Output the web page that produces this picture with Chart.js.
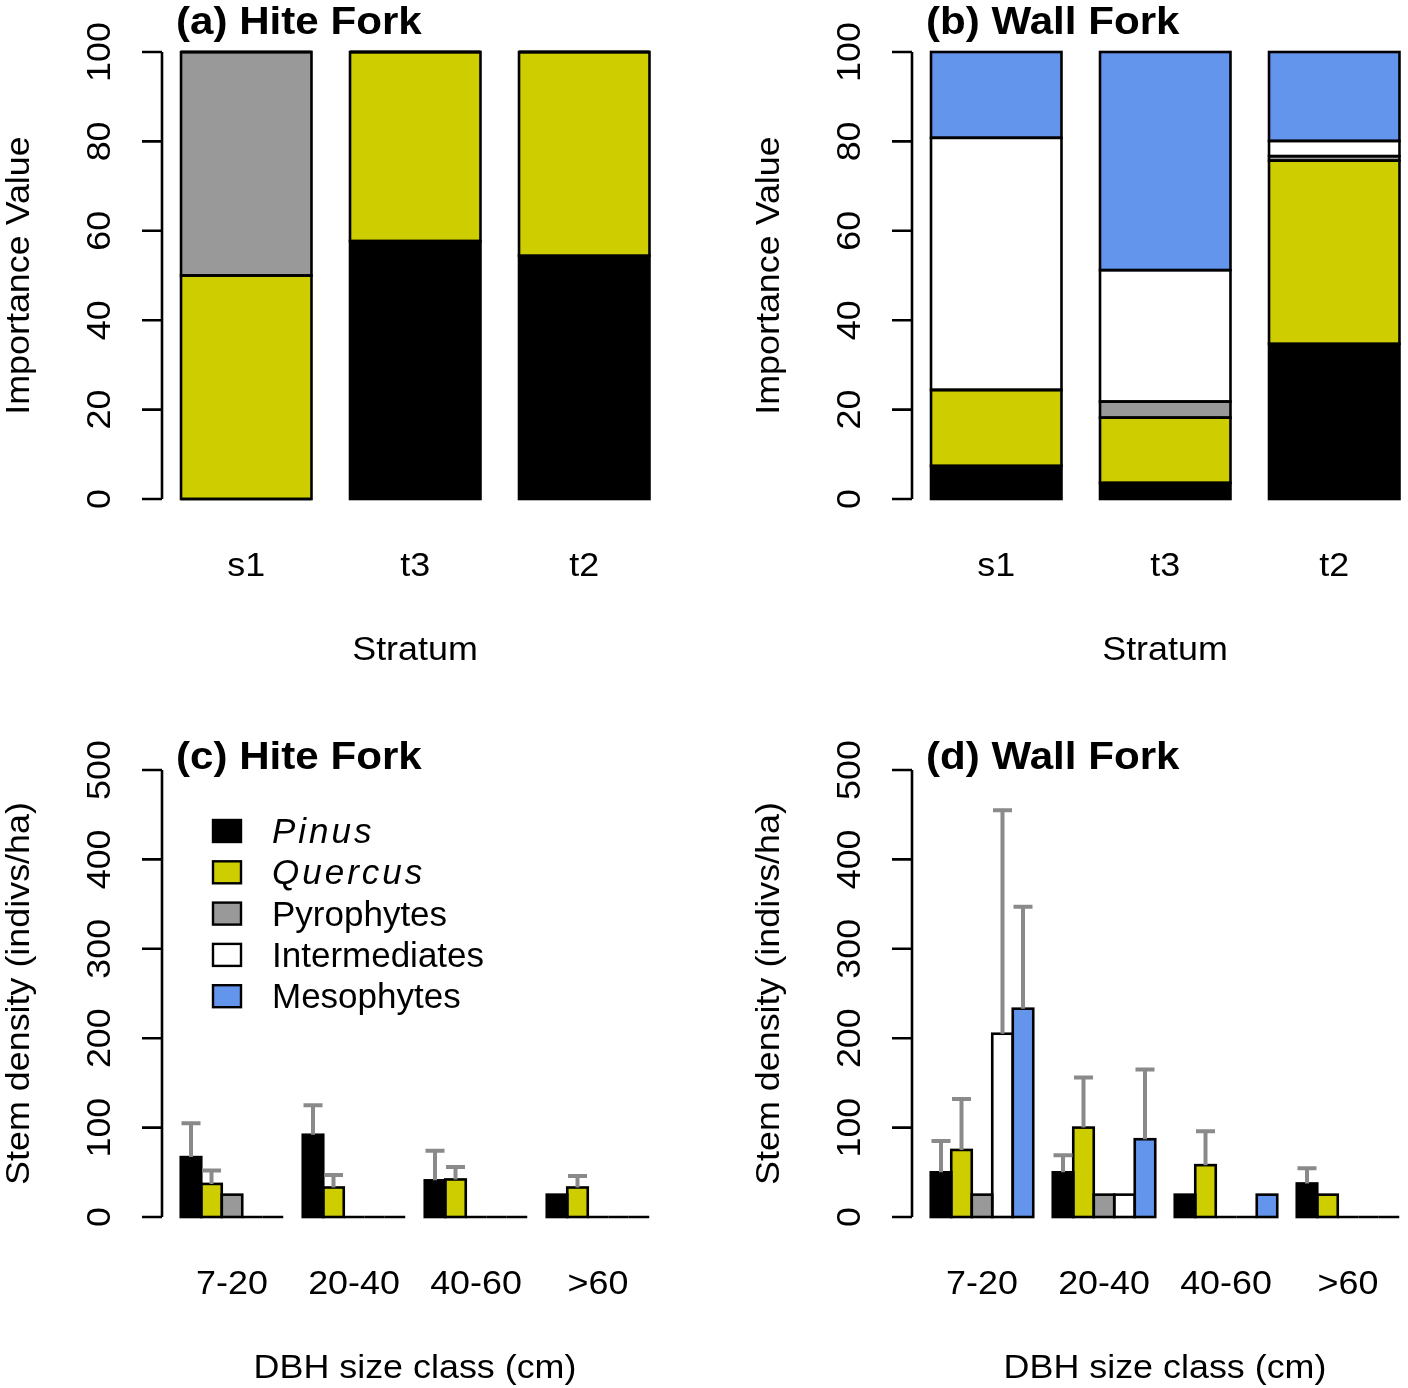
<!DOCTYPE html>
<html>
<head>
<meta charset="utf-8">
<title>Importance value and stem density, Hite Fork and Wall Fork</title>
<script src="https://cdn.jsdelivr.net/npm/chart.js@4.4.0/dist/chart.umd.min.js"></script>
<style>
  html, body { margin: 0; padding: 0; background: #fff; overflow: hidden; width: 1408px; height: 1388px; }
  canvas { position: absolute; }
</style>
</head>
<body>
<canvas id="panel-a" width="704" height="718" style="left:0;top:0"></canvas>
<canvas id="panel-b" width="704" height="718" style="left:750px;top:0"></canvas>
<canvas id="panel-c" width="704" height="670" style="left:0;top:718px"></canvas>
<canvas id="panel-d" width="704" height="670" style="left:750px;top:718px"></canvas>
<script>
// species groups, in legend / stacking order
const species = ['Pinus', 'Quercus', 'Pyrophytes', 'Intermediates', 'Mesophytes'];
const speciesColors = ['#000000', '#CDCD00', '#999999', '#FFFFFF', '#6495ED'];
const italicNames = ['Pinus', 'Quercus'];

const strata = ['s1', 't3', 't2'];
const dbhClasses = ['7-20', '20-40', '40-60', '>60'];
const ivTicks = [0, 20, 40, 60, 80, 100];
const densityTicks = [0, 100, 200, 300, 400, 500];

// (a) Hite Fork importance values by stratum
const hiteIvPinus = [0, 57.7, 54.4];
const hiteIvQuercus = [50, 42.3, 45.6];
const hiteIvPyro = [50, 0, 0];
const hiteIvInter = [0, 0, 0];
const hiteIvMeso = [0, 0, 0];

// (b) Wall Fork importance values by stratum
const wallIvPinus = [7.4, 3.6, 34.7];
const wallIvQuercus = [17.0, 14.6, 41.0];
const wallIvPyro = [0, 3.6, 1.0];
const wallIvInter = [56.4, 29.4, 3.4];
const wallIvMeso = [19.2, 48.8, 19.9];

// (c) Hite Fork stem density (indivs/ha) by DBH class, and standard errors
const hiteDenPinus = [67, 92, 41, 25];
const hiteDenQuercus = [37, 33, 42, 33];
const hiteDenPyro = [25, 0, 0, 0];
const hiteDenInter = [0, 0, 0, 0];
const hiteDenMeso = [0, 0, 0, 0];
const hiteSePinus = [38, 33, 33, 0];
const hiteSeQuercus = [15, 14, 14, 13];
const hiteSePyro = [0, 0, 0, 0];
const hiteSeInter = [0, 0, 0, 0];
const hiteSeMeso = [0, 0, 0, 0];

// (d) Wall Fork stem density (indivs/ha) by DBH class, and standard errors
const wallDenPinus = [50, 50, 25, 37.5];
const wallDenQuercus = [75, 100, 58, 25];
const wallDenPyro = [25, 25, 0, 0];
const wallDenInter = [205, 25, 0, 0];
const wallDenMeso = [233, 87, 25, 0];
const wallSePinus = [35, 19, 0, 17];
const wallSeQuercus = [57, 56, 38, 0];
const wallSePyro = [0, 0, 0, 0];
const wallSeInter = [250, 0, 0, 0];
const wallSeMeso = [114, 78, 0, 0];

const FONT = "'Liberation Sans', Arial, Helvetica, sans-serif";
const TEXT_STRETCH = 1.055; // the original's font runs a little wider than Arial

function drawText(ctx, text, x, y, rot, sx) {
    ctx.save();
    ctx.translate(x, y);
    if (rot) ctx.rotate(rot);
    ctx.scale(sx, 1);
    ctx.fillText(text, 0, 0);
    ctx.restore();
}

// draws the R-like look: centred bar outlines, error bars, axes, labels, legend
const rStyle = {
    id: 'rStyle',
    afterDatasetsDraw(chart, args, opts) {
        const ctx = chart.ctx;
        const yScale = chart.scales.y;
        ctx.save();

        // bar outlines (zero-height bars leave a flat line, as in R)
        ctx.strokeStyle = '#000';
        ctx.lineWidth = 2.6;
        chart.data.datasets.forEach((ds, i) => {
            chart.getDatasetMeta(i).data.forEach(bar => {
                const p = bar.getProps(['x', 'y', 'base', 'width'], true);
                ctx.strokeRect(p.x - p.width / 2, Math.min(p.y, p.base), p.width, Math.abs(p.base - p.y));
            });
        });

        // error bars (mean + SE)
        ctx.strokeStyle = '#8a8a8a';
        ctx.lineWidth = 4;
        ctx.lineCap = 'butt';
        chart.data.datasets.forEach((ds, i) => {
            if (!ds.se) return;
            chart.getDatasetMeta(i).data.forEach((bar, j) => {
                const se = ds.se[j];
                if (!se) return;
                const top = yScale.getPixelForValue(ds.data[j] + se);
                ctx.beginPath();
                ctx.moveTo(bar.x, bar.y);
                ctx.lineTo(bar.x, top);
                ctx.moveTo(bar.x - 9.5, top);
                ctx.lineTo(bar.x + 9.5, top);
                ctx.stroke();
            });
        });
        ctx.restore();
    },
    afterDraw(chart, args, opts) {
        const ctx = chart.ctx;
        const xScale = chart.scales.x;
        const yScale = chart.scales.y;
        const ticks = opts.ticks;
        ctx.save();
        ctx.fillStyle = '#000';
        ctx.strokeStyle = '#000';

        // y axis: line only over the tick range, ticks pointing outwards
        const ax = opts.axisX;
        ctx.lineWidth = 2.6;
        ctx.beginPath();
        ctx.moveTo(ax, yScale.getPixelForValue(ticks[0]));
        ctx.lineTo(ax, yScale.getPixelForValue(ticks[ticks.length - 1]));
        ticks.forEach(t => {
            const py = yScale.getPixelForValue(t);
            ctx.moveTo(ax - 20, py);
            ctx.lineTo(ax, py);
        });
        ctx.stroke();

        // rotated tick labels
        ctx.font = '34px ' + FONT;
        ctx.textAlign = 'center';
        ctx.textBaseline = 'alphabetic';
        ticks.forEach(t => {
            drawText(ctx, String(t), 110, yScale.getPixelForValue(t), -Math.PI / 2, TEXT_STRETCH);
        });

        // y axis title
        const midY = (yScale.getPixelForValue(ticks[0]) + yScale.getPixelForValue(ticks[ticks.length - 1])) / 2;
        drawText(ctx, opts.yTitle, 29, midY, -Math.PI / 2, TEXT_STRETCH);

        // category labels and x title
        chart.data.labels.forEach((lab, i) => {
            drawText(ctx, lab, xScale.getPixelForValue(i), 576, 0, TEXT_STRETCH);
        });
        drawText(ctx, opts.xTitle, 415, 660, 0, TEXT_STRETCH);

        // panel title
        ctx.font = 'bold 39px ' + FONT;
        ctx.textAlign = 'left';
        drawText(ctx, opts.title, 176, opts.titleY, 0, 1.08);

        // legend
        if (opts.legend) {
            chart.data.datasets.forEach((ds, i) => {
                const cy = 113 + i * 41.3;
                ctx.fillStyle = ds.backgroundColor;
                ctx.fillRect(213, cy - 11, 28, 22);
                ctx.lineWidth = 2.4;
                ctx.strokeRect(213, cy - 11, 28, 22);
                ctx.fillStyle = '#000';
                const italic = italicNames.includes(ds.label);
                ctx.font = (italic ? 'italic ' : '') + '35px ' + FONT;
                if ('letterSpacing' in ctx) ctx.letterSpacing = italic ? '3px' : '0px';
                ctx.fillText(ds.label, 272, cy + 12);
            });
            if ('letterSpacing' in ctx) ctx.letterSpacing = '0px';
        }
        ctx.restore();
    }
};

function makeDatasets(values, errors) {
    return species.map((name, i) => ({
        label: name,
        data: values[i],
        se: errors ? errors[i] : null,
        backgroundColor: speciesColors[i],
        borderWidth: 0
    }));
}

function makePanel(id, cfg) {
    const canvas = document.getElementById(id);
    return new Chart(canvas, {
        type: 'bar',
        data: { labels: cfg.labels, datasets: cfg.datasets },
        plugins: [rStyle],
        options: {
            responsive: false,
            animation: false,
            devicePixelRatio: 1,
            layout: {
                padding: {
                    left: cfg.left,
                    right: canvas.width - cfg.right,
                    top: 52,
                    bottom: canvas.height - 499
                }
            },
            datasets: {
                bar: {
                    categoryPercentage: cfg.catPct,
                    barPercentage: cfg.barPct
                }
            },
            scales: {
                x: { display: false, stacked: cfg.stacked, grid: { display: false } },
                y: { display: false, stacked: cfg.stacked, min: 0, max: cfg.ticks[cfg.ticks.length - 1] }
            },
            plugins: {
                legend: { display: false },
                tooltip: { enabled: false },
                rStyle: {
                    ticks: cfg.ticks,
                    axisX: 162,
                    title: cfg.title,
                    titleY: cfg.titleY,
                    xTitle: cfg.xTitle,
                    yTitle: cfg.yTitle,
                    legend: cfg.legend
                }
            }
        }
    });
}

makePanel('panel-a', {
    labels: strata,
    datasets: makeDatasets([hiteIvPinus, hiteIvQuercus, hiteIvPyro, hiteIvInter, hiteIvMeso]),
    stacked: true, catPct: 1, barPct: 0.772, left: 161.75, right: 668.75,
    ticks: ivTicks, title: '(a) Hite Fork', titleY: 34,
    xTitle: 'Stratum', yTitle: 'Importance Value', legend: false
});

makePanel('panel-b', {
    labels: strata,
    datasets: makeDatasets([wallIvPinus, wallIvQuercus, wallIvPyro, wallIvInter, wallIvMeso]),
    stacked: true, catPct: 1, barPct: 0.772, left: 161.75, right: 668.75,
    ticks: ivTicks, title: '(b) Wall Fork', titleY: 34,
    xTitle: 'Stratum', yTitle: 'Importance Value', legend: false
});

makePanel('panel-c', {
    labels: dbhClasses,
    datasets: makeDatasets(
        [hiteDenPinus, hiteDenQuercus, hiteDenPyro, hiteDenInter, hiteDenMeso],
        [hiteSePinus, hiteSeQuercus, hiteSePyro, hiteSeInter, hiteSeMeso]),
    stacked: false, catPct: 0.84, barPct: 1, left: 171, right: 659,
    ticks: densityTicks, title: '(c) Hite Fork', titleY: 51,
    xTitle: 'DBH size class (cm)', yTitle: 'Stem density (indivs/ha)', legend: true
});

makePanel('panel-d', {
    labels: dbhClasses,
    datasets: makeDatasets(
        [wallDenPinus, wallDenQuercus, wallDenPyro, wallDenInter, wallDenMeso],
        [wallSePinus, wallSeQuercus, wallSePyro, wallSeInter, wallSeMeso]),
    stacked: false, catPct: 0.84, barPct: 1, left: 171, right: 659,
    ticks: densityTicks, title: '(d) Wall Fork', titleY: 51,
    xTitle: 'DBH size class (cm)', yTitle: 'Stem density (indivs/ha)', legend: false
});
</script>
</body>
</html>
